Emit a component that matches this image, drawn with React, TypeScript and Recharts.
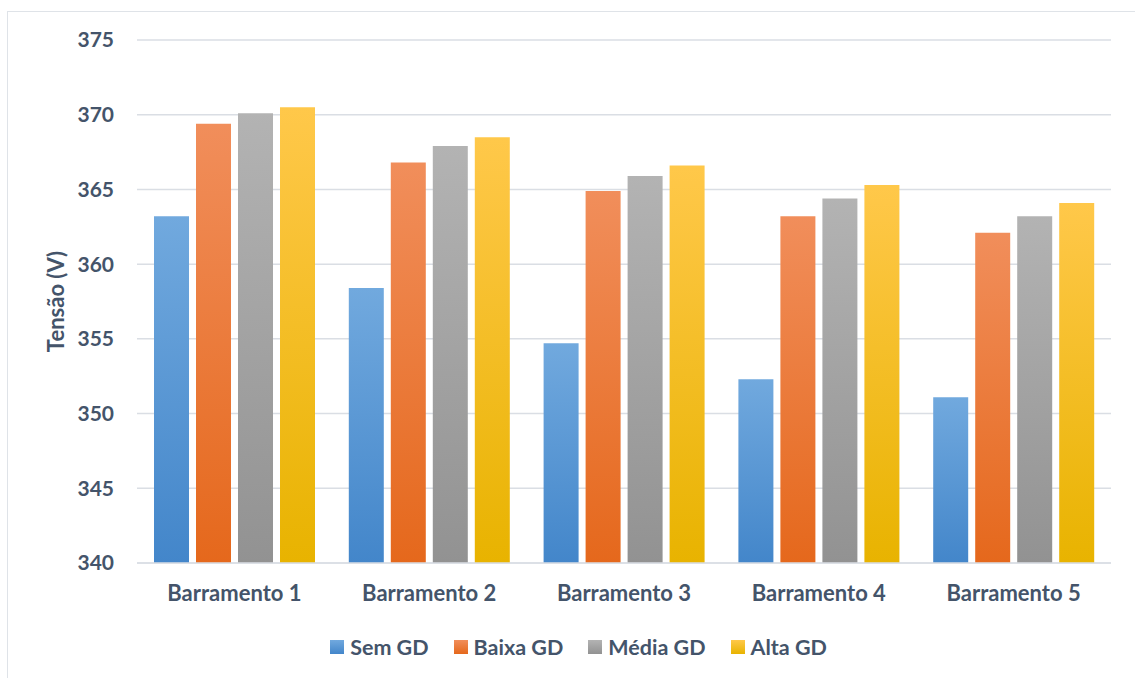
import { BarChart, Bar, XAxis, YAxis, CartesianGrid, Legend } from 'recharts';

const categories = ['Barramento 1', 'Barramento 2', 'Barramento 3', 'Barramento 4', 'Barramento 5'];
const semGD = [363.2, 358.4, 354.7, 352.3, 351.1];
const baixaGD = [369.4, 366.8, 364.9, 363.2, 362.1];
const mediaGD = [370.1, 367.9, 365.9, 364.4, 363.2];
const altaGD = [370.5, 368.5, 366.6, 365.3, 364.1];
const yTicks = [340, 345, 350, 355, 360, 365, 370, 375];

const seriesNames = ['Sem GD', 'Baixa GD', 'Média GD', 'Alta GD'];
// gradient top / bottom per series
const gradients = [
  ['#71a9de', '#4386ca'],
  ['#f18e5b', '#e5681c'],
  ['#b3b3b3', '#929292'],
  ['#ffc84a', '#e8b300'],
];

const chartData = categories.map((name, i) => ({
  name,
  sem: semGD[i],
  baixa: baixaGD[i],
  media: mediaGD[i],
  alta: altaGD[i],
}));

const keys = ['sem', 'baixa', 'media', 'alta'];
const font = 'Lato, "Open Sans", sans-serif';
const textColor = '#44546a';
const gridColor = '#dadee4';

function LegendContent() {
  return (
    <div
      style={{
        display: 'flex',
        justifyContent: 'center',
        alignItems: 'center',
        height: 30,
        paddingLeft: 22,
        fontFamily: font,
        fontWeight: 700,
        fontSize: 21.5,
        color: textColor,
      }}
    >
      {seriesNames.map((n, i) => (
        <div key={n} style={{ display: 'flex', alignItems: 'center', marginRight: i < 3 ? 25 : 0 }}>
          <span
            style={{
              display: 'inline-block',
              width: 14,
              height: 14,
              marginRight: 6,
              background: `linear-gradient(${gradients[i][0]}, ${gradients[i][1]})`,
            }}
          />
          {n}
        </div>
      ))}
    </div>
  );
}

export default function App() {
  return (
    <div style={{ position: 'absolute', left: 0, top: 0, width: 1135, height: 678, background: '#fff', overflow: 'hidden' }}>
      <div
        style={{
          position: 'absolute',
          left: 7,
          top: 11,
          width: 1140,
          height: 700,
          borderLeft: '1.5px solid #dfe3e8',
          borderTop: '1.5px solid #dfe3e8',
        }}
      />
      <div style={{ position: 'absolute', left: 0, top: 0 }}>
        <BarChart
          width={1135}
          height={678}
          data={chartData}
          margin={{ top: 40, right: 24, left: 0, bottom: 16 }}
          barCategoryGap={17}
          barGap={7}
        >
          <defs>
            {gradients.map((g, i) => (
              <linearGradient key={i} id={`grad${i}`} x1="0" y1="0" x2="0" y2="1">
                <stop offset="0%" stopColor={g[0]} />
                <stop offset="100%" stopColor={g[1]} />
              </linearGradient>
            ))}
          </defs>
          <CartesianGrid vertical={false} stroke={gridColor} strokeWidth={1.5} />
          <XAxis
            dataKey="name"
            height={69}
            tickLine={false}
            tickSize={0}
            tickMargin={22}
            axisLine={{ stroke: gridColor, strokeWidth: 1.5 }}
            tick={{ fill: textColor, fontFamily: font, fontWeight: 700, fontSize: 22 }}
          />
          <YAxis
            width={137}
            domain={[340, 375]}
            ticks={yTicks}
            axisLine={false}
            tickLine={false}
            tickSize={0}
            tickMargin={23}
            tick={{ fill: textColor, fontFamily: font, fontWeight: 700, fontSize: 21 }}
            label={{
              value: 'Tensão (V)',
              angle: -90,
              position: 'center',
              dx: -12,
              fill: textColor,
              fontFamily: font,
              fontWeight: 700,
              fontSize: 22,
            }}
          />
          <Legend verticalAlign="bottom" content={<LegendContent />} wrapperStyle={{ left: 0, width: 1135 }} />
          {keys.map((k, i) => (
            <Bar key={k} dataKey={k} name={seriesNames[i]} fill={`url(#grad${i})`} isAnimationActive={false} />
          ))}
        </BarChart>
      </div>
    </div>
  );
}
